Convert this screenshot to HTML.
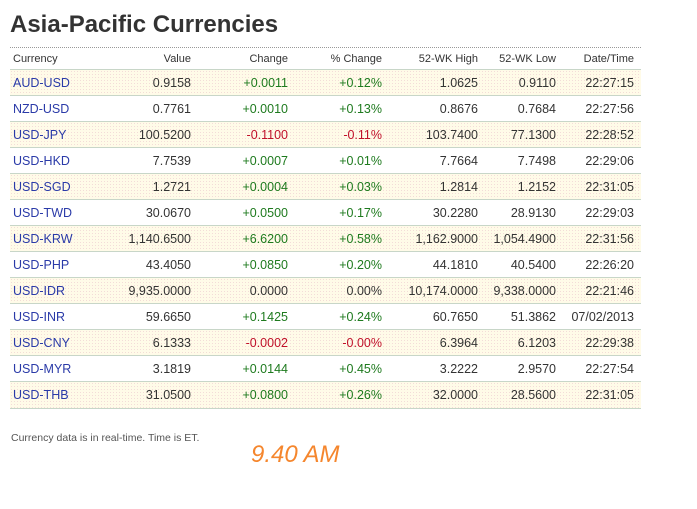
<!DOCTYPE html>
<html><head><meta charset="utf-8"><style>
body{margin:0;width:697px;height:509px;background:#fff;font-family:"Liberation Sans",Arial,sans-serif;position:relative;overflow:hidden}
h1{position:absolute;left:10px;top:11px;margin:0;font-size:24px;font-weight:bold;color:#333;letter-spacing:0}
.top{position:absolute;left:10px;top:47px;width:631px;border-top:1px dotted #999}
.row{position:absolute;left:10px;width:631px;height:26px;border-bottom:1px solid #c8d6c8;box-sizing:border-box;font-size:12.5px;color:#333}
.row.y{background-color:#fffbe8;background-image:radial-gradient(#f3dcd8 0.6px,transparent 0.7px);background-size:3px 3px}
.row span{position:absolute;top:6px;white-space:nowrap}
.hd{font-size:11px;color:#333}
.c0{left:3px}
.c1{right:450px}.c2{right:353px}.c3{right:259px}.c4{right:163px}.c5{right:85px}.c6{right:7px}
a{color:#2a3aa8;text-decoration:none}
.g{color:#1e7a1e}.r{color:#c0102a}
.note{position:absolute;left:11px;top:432px;font-size:10.5px;color:#555}
.time{position:absolute;left:251px;top:441px;font-size:24px;font-style:italic;color:#f5862d}
</style></head><body>
<h1>Asia-Pacific Currencies</h1>
<div class="top"></div>
<div class="row hd" style="top:48px;height:22px;font-size:11px"><span class="c0" style="top:5px">Currency</span><span class="c1" style="top:5px">Value</span><span class="c2" style="top:5px">Change</span><span class="c3" style="top:5px">% Change</span><span class="c4" style="top:5px">52-WK High</span><span class="c5" style="top:5px">52-WK Low</span><span class="c6" style="top:5px">Date/Time</span></div>
<div class="row y" style="top:70px"><span class="c0"><a>AUD-USD</a></span><span class="c1">0.9158</span><span class="c2 g">+0.0011</span><span class="c3 g">+0.12%</span><span class="c4">1.0625</span><span class="c5">0.9110</span><span class="c6">22:27:15</span></div>
<div class="row" style="top:96px"><span class="c0"><a>NZD-USD</a></span><span class="c1">0.7761</span><span class="c2 g">+0.0010</span><span class="c3 g">+0.13%</span><span class="c4">0.8676</span><span class="c5">0.7684</span><span class="c6">22:27:56</span></div>
<div class="row y" style="top:122px"><span class="c0"><a>USD-JPY</a></span><span class="c1">100.5200</span><span class="c2 r">-0.1100</span><span class="c3 r">-0.11%</span><span class="c4">103.7400</span><span class="c5">77.1300</span><span class="c6">22:28:52</span></div>
<div class="row" style="top:148px"><span class="c0"><a>USD-HKD</a></span><span class="c1">7.7539</span><span class="c2 g">+0.0007</span><span class="c3 g">+0.01%</span><span class="c4">7.7664</span><span class="c5">7.7498</span><span class="c6">22:29:06</span></div>
<div class="row y" style="top:174px"><span class="c0"><a>USD-SGD</a></span><span class="c1">1.2721</span><span class="c2 g">+0.0004</span><span class="c3 g">+0.03%</span><span class="c4">1.2814</span><span class="c5">1.2152</span><span class="c6">22:31:05</span></div>
<div class="row" style="top:200px"><span class="c0"><a>USD-TWD</a></span><span class="c1">30.0670</span><span class="c2 g">+0.0500</span><span class="c3 g">+0.17%</span><span class="c4">30.2280</span><span class="c5">28.9130</span><span class="c6">22:29:03</span></div>
<div class="row y" style="top:226px"><span class="c0"><a>USD-KRW</a></span><span class="c1">1,140.6500</span><span class="c2 g">+6.6200</span><span class="c3 g">+0.58%</span><span class="c4">1,162.9000</span><span class="c5">1,054.4900</span><span class="c6">22:31:56</span></div>
<div class="row" style="top:252px"><span class="c0"><a>USD-PHP</a></span><span class="c1">43.4050</span><span class="c2 g">+0.0850</span><span class="c3 g">+0.20%</span><span class="c4">44.1810</span><span class="c5">40.5400</span><span class="c6">22:26:20</span></div>
<div class="row y" style="top:278px"><span class="c0"><a>USD-IDR</a></span><span class="c1">9,935.0000</span><span class="c2">0.0000</span><span class="c3">0.00%</span><span class="c4">10,174.0000</span><span class="c5">9,338.0000</span><span class="c6">22:21:46</span></div>
<div class="row" style="top:304px"><span class="c0"><a>USD-INR</a></span><span class="c1">59.6650</span><span class="c2 g">+0.1425</span><span class="c3 g">+0.24%</span><span class="c4">60.7650</span><span class="c5">51.3862</span><span class="c6">07/02/2013</span></div>
<div class="row y" style="top:330px"><span class="c0"><a>USD-CNY</a></span><span class="c1">6.1333</span><span class="c2 r">-0.0002</span><span class="c3 r">-0.00%</span><span class="c4">6.3964</span><span class="c5">6.1203</span><span class="c6">22:29:38</span></div>
<div class="row" style="top:356px"><span class="c0"><a>USD-MYR</a></span><span class="c1">3.1819</span><span class="c2 g">+0.0144</span><span class="c3 g">+0.45%</span><span class="c4">3.2222</span><span class="c5">2.9570</span><span class="c6">22:27:54</span></div>
<div class="row y" style="top:382px;height:27px"><span class="c0"><a>USD-THB</a></span><span class="c1">31.0500</span><span class="c2 g">+0.0800</span><span class="c3 g">+0.26%</span><span class="c4">32.0000</span><span class="c5">28.5600</span><span class="c6">22:31:05</span></div>
<div class="note">Currency data is in real-time. Time is ET.</div>
<div class="time">9.40 AM</div>
</body></html>
